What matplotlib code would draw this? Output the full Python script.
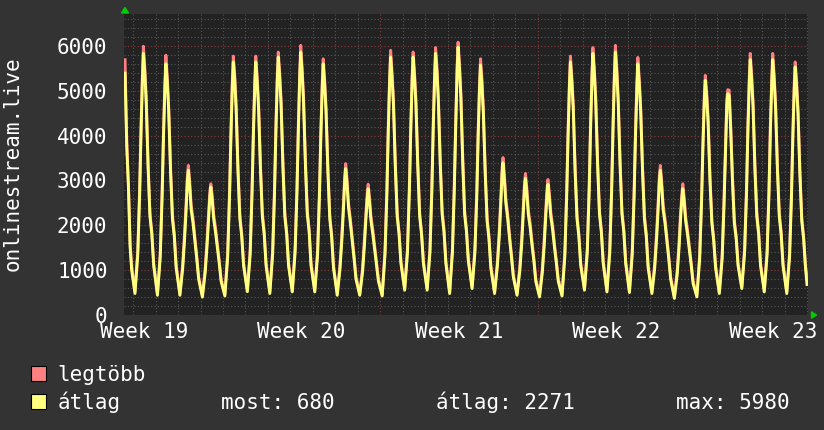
import numpy as np
import matplotlib

matplotlib.use("Agg")
import matplotlib.pyplot as plt
from matplotlib.patches import Rectangle, Polygon
from matplotlib.transforms import blended_transform_factory

# time axis: days counted from the Monday that starts week 20
X_MIN, X_MAX = -4.405, 26.028
Y_MAX = 6720

# sample hours inside each day
HOURS = [2, 5, 7, 8.5, 10, 11, 12.5, 14, 16, 18, 20, 22]
DAYS = list(range(-4, 26))

# first partial day (day -5, afternoon) and the last sample
START_HOURS = [15.4, 17.2, 19.0, 20.8, 22.5]
START_AVG = [5400, 3750, 2860, 1520, 1000]
START_MAX = [5700, 3900, 2950, 1600, 1080]
END_HOUR = 23.6
END_AVG = 680
END_MAX = 850

# átlag (average), one row per day
AVG_ROWS = [
    [480, 1350, 2700, 4100, 5300, 5840, 5400, 4750, 3300, 2200, 1800, 1100],
    [440, 1300, 2650, 4000, 5100, 5610, 5200, 4550, 3200, 2150, 1750, 1050],
    [440, 1050, 1700, 2300, 3000, 3230, 2850, 2350, 2050, 1650, 1250, 800],
    [400, 950, 1550, 2100, 2650, 2860, 2550, 2150, 1850, 1500, 1150, 750],
    [425, 1300, 2650, 4000, 5150, 5650, 5250, 4600, 3200, 2150, 1750, 1100],
    [520, 1350, 2700, 4050, 5150, 5650, 5200, 4600, 3250, 2200, 1800, 1100],
    [480, 1350, 2700, 4100, 5250, 5760, 5300, 4700, 3300, 2200, 1800, 1100],
    [515, 1400, 2750, 4150, 5350, 5870, 5400, 4750, 3350, 2250, 1850, 1100],
    [515, 1350, 2650, 4000, 5100, 5610, 5150, 4550, 3200, 2150, 1750, 1050],
    [440, 1050, 1700, 2300, 3000, 3270, 2900, 2400, 2050, 1650, 1250, 800],
    [440, 950, 1550, 2100, 2600, 2820, 2500, 2100, 1800, 1450, 1100, 750],
    [425, 1350, 2700, 4100, 5250, 5760, 5300, 4700, 3300, 2200, 1800, 1150],
    [555, 1400, 2750, 4100, 5250, 5760, 5300, 4700, 3300, 2200, 1800, 1150],
    [555, 1400, 2750, 4150, 5300, 5840, 5400, 4750, 3350, 2250, 1850, 1150],
    [480, 1400, 2800, 4200, 5450, 5980, 5500, 4850, 3400, 2250, 1850, 1200],
    [590, 1400, 2650, 4000, 5100, 5580, 5150, 4500, 3150, 2100, 1700, 1050],
    [480, 1100, 1750, 2400, 3150, 3400, 3000, 2500, 2150, 1700, 1300, 850],
    [440, 1000, 1600, 2200, 2850, 3050, 2700, 2250, 1950, 1550, 1200, 750],
    [405, 950, 1550, 2150, 2700, 2920, 2600, 2200, 1900, 1500, 1150, 750],
    [425, 1300, 2650, 4000, 5150, 5650, 5200, 4600, 3200, 2150, 1750, 1100],
    [555, 1400, 2750, 4150, 5300, 5840, 5400, 4750, 3350, 2250, 1850, 1150],
    [515, 1400, 2750, 4150, 5350, 5870, 5400, 4750, 3350, 2250, 1850, 1150],
    [500, 1350, 2650, 4000, 5100, 5610, 5150, 4550, 3200, 2150, 1750, 1050],
    [480, 1050, 1700, 2300, 3000, 3230, 2850, 2350, 2050, 1650, 1250, 800],
    [370, 900, 1500, 2100, 2600, 2820, 2500, 2100, 1800, 1450, 1100, 700],
    [405, 1250, 2500, 3750, 4800, 5240, 4850, 4300, 3000, 2050, 1650, 1050],
    [480, 1250, 2450, 3600, 4700, 4940, 4900, 4200, 3000, 2050, 1700, 1100],
    [590, 1400, 2700, 4100, 5200, 5700, 5250, 4650, 3250, 2200, 1800, 1100],
    [515, 1350, 2700, 4100, 5200, 5700, 5250, 4650, 3250, 2200, 1800, 1100],
    [480, 1300, 2600, 3950, 5050, 5540, 5100, 4500, 3150, 2100, 1700, 1050],
]

# legtöbb (maximum), one row per day
MAX_ROWS = [
    [520, 1450, 2850, 4250, 5420, 6000, 5520, 4850, 3400, 2280, 1860, 1150],
    [480, 1400, 2800, 4150, 5220, 5800, 5320, 4650, 3300, 2230, 1810, 1100],
    [480, 1150, 1850, 2450, 3120, 3340, 2970, 2450, 2150, 1730, 1310, 850],
    [440, 1050, 1700, 2250, 2770, 2930, 2670, 2250, 1950, 1580, 1210, 800],
    [465, 1400, 2800, 4150, 5270, 5780, 5370, 4700, 3300, 2230, 1810, 1150],
    [560, 1450, 2850, 4200, 5270, 5780, 5320, 4700, 3350, 2280, 1860, 1150],
    [520, 1450, 2850, 4250, 5370, 5870, 5420, 4800, 3400, 2280, 1860, 1150],
    [555, 1500, 2900, 4300, 5470, 6020, 5520, 4850, 3450, 2330, 1910, 1150],
    [555, 1450, 2800, 4150, 5220, 5720, 5270, 4650, 3300, 2230, 1810, 1100],
    [480, 1150, 1850, 2450, 3120, 3380, 3020, 2500, 2150, 1730, 1310, 850],
    [480, 1050, 1700, 2250, 2720, 2920, 2620, 2200, 1900, 1530, 1160, 800],
    [465, 1450, 2850, 4250, 5370, 5910, 5420, 4800, 3400, 2280, 1860, 1200],
    [595, 1500, 2900, 4250, 5370, 5870, 5420, 4800, 3400, 2280, 1860, 1200],
    [595, 1500, 2900, 4300, 5420, 5970, 5520, 4850, 3450, 2330, 1910, 1200],
    [520, 1500, 2950, 4350, 5570, 6090, 5620, 4950, 3500, 2330, 1910, 1250],
    [630, 1500, 2800, 4150, 5220, 5720, 5270, 4600, 3250, 2180, 1760, 1100],
    [520, 1200, 1900, 2550, 3270, 3515, 3120, 2600, 2250, 1780, 1360, 900],
    [480, 1100, 1750, 2350, 2970, 3160, 2820, 2350, 2050, 1630, 1260, 800],
    [445, 1050, 1700, 2300, 2820, 3025, 2720, 2300, 2000, 1580, 1210, 800],
    [465, 1400, 2800, 4150, 5270, 5780, 5320, 4700, 3300, 2230, 1810, 1150],
    [595, 1500, 2900, 4300, 5420, 5970, 5520, 4850, 3450, 2330, 1910, 1200],
    [555, 1500, 2900, 4300, 5470, 6020, 5520, 4850, 3450, 2330, 1910, 1200],
    [540, 1450, 2800, 4150, 5220, 5750, 5270, 4650, 3300, 2230, 1810, 1100],
    [520, 1150, 1850, 2450, 3120, 3340, 2970, 2450, 2150, 1730, 1310, 850],
    [410, 1000, 1650, 2250, 2720, 2930, 2620, 2200, 1900, 1530, 1160, 750],
    [445, 1350, 2650, 3900, 4920, 5350, 4970, 4400, 3100, 2130, 1710, 1100],
    [520, 1350, 2600, 3750, 4820, 5030, 5020, 4300, 3100, 2130, 1760, 1150],
    [630, 1500, 2850, 4250, 5320, 5840, 5370, 4750, 3350, 2280, 1860, 1150],
    [555, 1450, 2850, 4250, 5320, 5840, 5370, 4750, 3350, 2280, 1860, 1150],
    [520, 1400, 2750, 4100, 5170, 5650, 5220, 4600, 3250, 2180, 1760, 1100],
]

WEEK_STARTS = [0, 7, 14, 21]
WEEK_LABELS = ["Week 19", "Week 20", "Week 21", "Week 22", "Week 23"]
WEEK_LABEL_POS = [-3.5, 3.5, 10.5, 17.5, 24.5]
Y_TICKS = [0, 1000, 2000, 3000, 4000, 5000, 6000]
Y_TITLE = "onlinestream.live"
LEGEND_NAMES = ["legtöbb", "átlag"]
LEGEND_STATS = ["most: 680", "átlag: 2271", "max: 5980"]

# assemble series
t = [-5 + h / 24 for h in START_HOURS]
avg = list(START_AVG)
mx = list(START_MAX)
for d, ra, rm in zip(DAYS, AVG_ROWS, MAX_ROWS):
    t += [d + h / 24 for h in HOURS]
    avg += ra
    mx += rm
t.append(25 + END_HOUR / 24)
avg.append(END_AVG)
mx.append(END_MAX)
t = np.array(t)

W, H = 824, 430
BG = "#333333"
PLOT_BG = "#222222"
RED = "#ff8080"
YELLOW = "#ffff80"
FONT = "DejaVu Sans Mono"
FS = 15

fig = plt.figure(figsize=(W / 100, H / 100), dpi=100, facecolor=BG)
L, R, T, B = 124, 808, 14, 315
ax = fig.add_axes([L / W, 1 - B / H, (R - L) / W, (B - T) / H])
ax.set_facecolor(PLOT_BG)
ax.set_xlim(X_MIN, X_MAX)
ax.set_ylim(0, Y_MAX)
for s in ax.spines.values():
    s.set_visible(False)
ax.set_xticks([])
ax.set_yticks([])

dot = (0, (1, 2))
for v in range(200, Y_MAX, 200):
    if v % 1000:
        ax.axhline(v, color="#575757", lw=0.8, ls=dot, zorder=1)
for d in range(-4, 27):
    if d not in WEEK_STARTS:
        ax.axvline(d, color="#575757", lw=0.8, ls=dot, zorder=1)
for v in Y_TICKS[1:]:
    ax.axhline(v, color="#8a3a3a", lw=0.8, ls=dot, zorder=1.5)
for d in WEEK_STARTS:
    ax.axvline(d, color="#8a3a3a", lw=0.8, ls=dot, zorder=1.5)

ax.plot(t, mx, color=RED, lw=2.1, zorder=3, solid_joinstyle="round")
ax.plot(t, avg, color=YELLOW, lw=2.1, zorder=4, solid_joinstyle="round")


def fx(x):
    return x / W


def fy(y):
    return 1 - y / H


# y tick labels
for v in Y_TICKS:
    ypx = B - v / Y_MAX * (B - T)
    fig.text(fx(107.5), fy(ypx + 7.7), str(v), ha="right", va="baseline",
             color="white", fontsize=FS, family=FONT)

# x labels
tr = blended_transform_factory(ax.transData, fig.transFigure)
for pos, lab in zip(WEEK_LABEL_POS, WEEK_LABELS):
    ax.text(pos, fy(338.3), lab, transform=tr, ha="center", va="baseline",
            color="white", fontsize=FS, family=FONT, clip_on=False)

fig.text(fx(18.5), fy(164), Y_TITLE, rotation=90, rotation_mode="anchor",
         ha="center", va="baseline", color="white", fontsize=FS, family=FONT)

# arrows
fig.patches.append(Polygon([(fx(121.5), fy(13)), (fx(128.5), fy(13)), (fx(125), fy(7.5))],
                           closed=True, transform=fig.transFigure, color="#00cc00"))
fig.patches.append(Polygon([(fx(811.5), fy(311.8)), (fx(811.5), fy(318.2)), (fx(816.5), fy(315))],
                           closed=True, transform=fig.transFigure, color="#00cc00"))

# legend
for i, (name, col) in enumerate(zip(LEGEND_NAMES, [RED, YELLOW])):
    base = 381 + 28 * i
    fig.patches.append(Rectangle((fx(31.5), fy(base)), 15 / W, 15 / H,
                                 transform=fig.transFigure, facecolor=col,
                                 edgecolor="black", lw=0.8))
    fig.text(fx(57.5), fy(base), name, ha="left", va="baseline",
             color="white", fontsize=FS, family=FONT)

for x0, s in zip([220.5, 435.5, 676.5], LEGEND_STATS):
    fig.text(fx(x0), fy(409), s, ha="left", va="baseline",
             color="white", fontsize=FS, family=FONT)

fig.savefig("out.png", dpi=100, facecolor=BG)
